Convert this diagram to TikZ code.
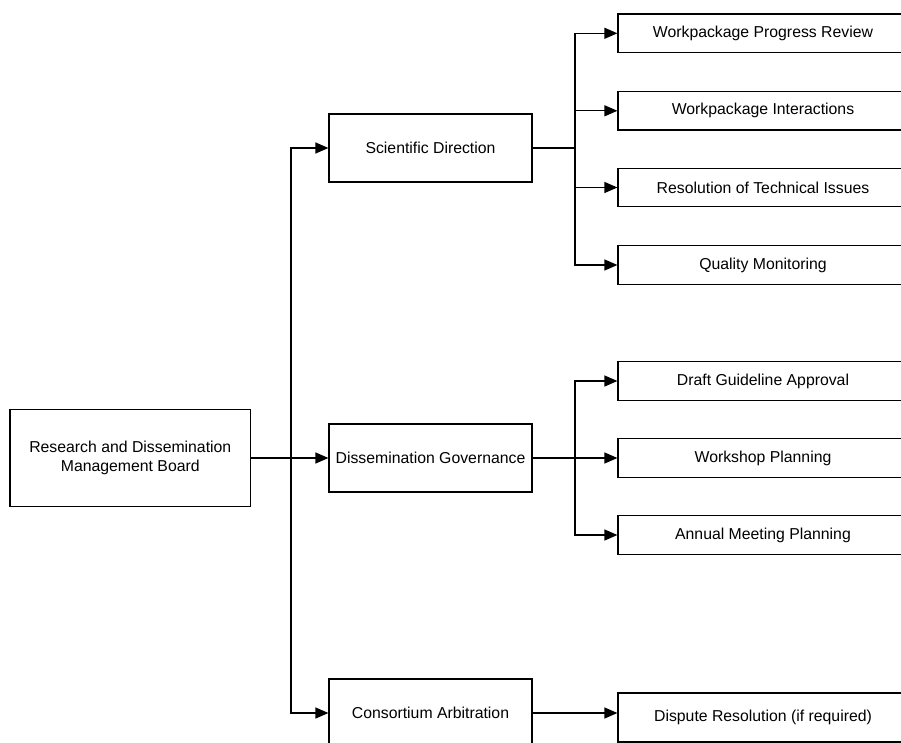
\documentclass[tikz,border=0pt]{standalone}
\usepackage{fontspec}
\setmainfont{Liberation Sans}
\usetikzlibrary{arrows.meta}

\tikzset{
  box/.style={draw=black, line width=1.2pt, fill=white, inner sep=0pt,
    align=center, font=\fontsize{15.8}{19}\selectfont},
  midbox/.style={box, minimum width=203pt, minimum height=68pt},
  leafbox/.style={box, minimum width=290pt, minimum height=38.5pt},
  link/.style={line width=1.2pt, draw=black},
  arrow/.style={link, -{Triangle[length=13pt, width=11pt]}},
}

\begin{document}
\begin{tikzpicture}[x=1pt, y=-1pt]
  \useasboundingbox (0,0) rectangle (901,743);

  % root
  \node[box, minimum width=240.7pt, minimum height=97pt] (root) at (130.3,458)
    {Research and Dissemination\\Management Board};

  % second level
  \node[midbox] (sci)  at (430.5,148) {Scientific Direction};
  \node[midbox] (diss) at (430.5,458) {Dissemination Governance};
  \node[midbox] (cons) at (430.5,713) {Consortium Arbitration};

  % leaves of Scientific Direction
  \node[leafbox] (wpr) at (763,33.3)  {Workpackage Progress Review};
  \node[leafbox] (wpi) at (763,110.8) {Workpackage Interactions};
  \node[leafbox] (rti) at (763,187.5) {Resolution of Technical Issues};
  \node[leafbox] (qm)  at (763,265)   {Quality Monitoring};

  % leaves of Dissemination Governance
  \node[leafbox] (dga) at (763,381) {Draft Guideline Approval};
  \node[leafbox] (wsp) at (763,458) {Workshop Planning};
  \node[leafbox] (amp) at (763,535) {Annual Meeting Planning};

  % leaf of Consortium Arbitration
  \node[box, minimum width=290pt, minimum height=49pt] (dsp) at (763,717.5)
    {Dispute Resolution (if required)};

  % junction points
  \coordinate (trunk) at (291,458);
  \coordinate (sbus)  at (575,148);
  \coordinate (dbus)  at (575,458);

  % root to second level
  \draw[arrow] (root.east) -- (diss.west);
  \draw[arrow] (trunk) |- (sci.west);
  \draw[arrow] (trunk) |- (cons.west);

  % Scientific Direction branch
  \draw[link] (sci.east) -- (sbus);
  \draw[arrow] (sbus) |- (wpr.west);
  \draw[arrow] (sbus) |- (wpi.west);
  \draw[arrow] (sbus) |- (rti.west);
  \draw[arrow] (sbus) |- (qm.west);

  % Dissemination Governance branch
  \draw[arrow] (diss.east) -- (wsp.west);
  \draw[arrow] (dbus) |- (dga.west);
  \draw[arrow] (dbus) |- (amp.west);

  % Consortium Arbitration branch
  \draw[arrow] (cons.east) -- (cons.east -| dsp.west);
\end{tikzpicture}
\end{document}
